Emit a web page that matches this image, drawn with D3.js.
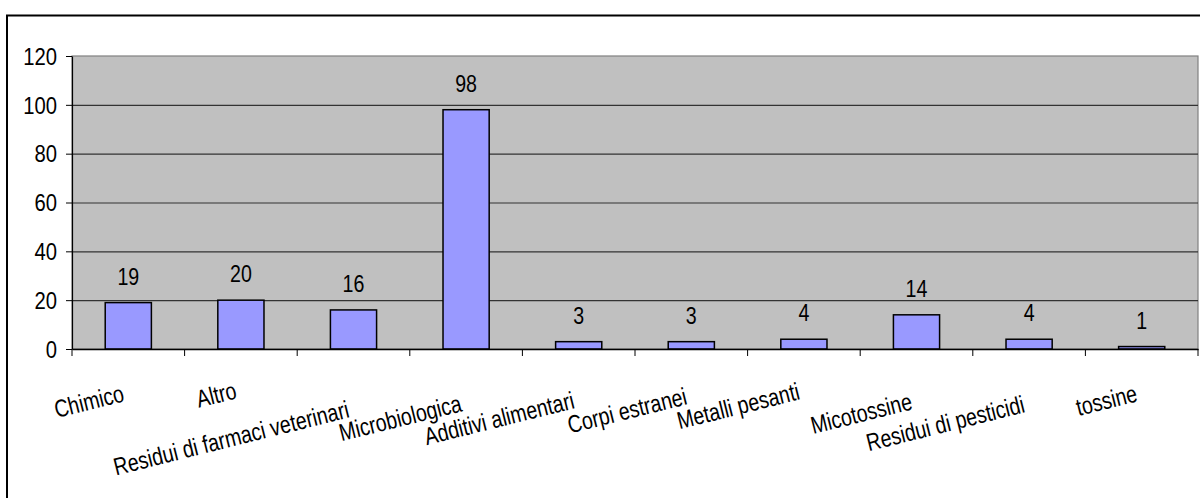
<!DOCTYPE html>
<html>
<head>
<meta charset="utf-8">
<script src="https://cdn.jsdelivr.net/npm/d3@7"></script>
<style>
  html, body { margin: 0; padding: 0; background: #ffffff; }
  svg { display: block; }
  text { font-family: "Liberation Sans", Arial, sans-serif; fill: #000; }
</style>
</head>
<body>
<svg id="chart" width="1200" height="498"></svg>
<script>
// Categorie di rischio e numero di notifiche
const categories = [
  "Chimico", "Altro", "Residui di farmaci veterinari", "Microbiologica",
  "Additivi alimentari", "Corpi estranei", "Metalli pesanti",
  "Micotossine", "Residui di pesticidi", "tossine"
];
const values = [19, 20, 16, 98, 3, 3, 4, 14, 4, 1];
const yTicks = [0, 20, 40, 60, 80, 100, 120];

// Layout
const plot = { left: 72, top: 56, right: 1198, bottom: 349 };
const labelAngle = -14;
// vertical stagger of the rotated category labels (px)
const labelDrop = [0, -3, 16, 10, 7, 3, -2, 8, 11, 0];

const svg = d3.select("#chart");

// Chart area frame
svg.append("rect")
  .attr("x", 7).attr("y", 15.5)
  .attr("width", 1300).attr("height", 700)
  .attr("fill", "#fff").attr("stroke", "#000").attr("stroke-width", 2);

const x = d3.scaleBand()
  .domain(categories)
  .range([plot.left, plot.right])
  .paddingInner(0.59)
  .paddingOuter(0.295);

const y = d3.scaleLinear()
  .domain([0, 120])
  .range([plot.bottom, plot.top]);

// Plot background
svg.append("rect")
  .attr("x", plot.left).attr("y", plot.top)
  .attr("width", plot.right - plot.left).attr("height", plot.bottom - plot.top)
  .attr("fill", "#c0c0c0")
  .attr("stroke", "#808080").attr("stroke-width", 1.2);

// Gridlines
svg.append("g")
  .selectAll("line")
  .data(yTicks.filter(t => t > 0 && t < 120))
  .join("line")
  .attr("x1", plot.left).attr("x2", plot.right)
  .attr("y1", d => y(d) + 0.5).attr("y2", d => y(d) + 0.5)
  .attr("stroke", "#333333").attr("stroke-width", 1.1);

// Y axis
const tickSx = 0.88;
const yAxis = svg.append("g")
  .attr("transform", `translate(${plot.left},0)`)
  .call(d3.axisLeft(y).tickValues(yTicks).tickSize(6).tickSizeOuter(0).tickPadding(9));
yAxis.select(".domain").attr("stroke", "#000").attr("stroke-width", 1.2);
yAxis.selectAll(".tick line").attr("stroke", "#000");
yAxis.selectAll(".tick text")
  .attr("font-size", 23)
  .attr("x", -15 / tickSx)
  .attr("dy", "0.36em")
  .attr("transform", `scale(${tickSx},1)`)
  .style("font-family", '"Liberation Sans", Arial, sans-serif')
  .attr("fill", "#000");

// Bars
svg.append("g")
  .selectAll("rect")
  .data(values)
  .join("rect")
  .attr("x", (d, i) => x(categories[i]))
  .attr("y", d => y(d))
  .attr("width", x.bandwidth())
  .attr("height", d => y(0) - y(d))
  .attr("fill", "#9999ff")
  .attr("stroke", "#000")
  .attr("stroke-width", 1.5);

// X axis line and category ticks at band boundaries
const xAxis = svg.append("g")
  .attr("transform", `translate(0,${plot.bottom})`)
  .call(d3.axisBottom(x).tickSize(0).tickFormat(""));
xAxis.select(".domain").attr("stroke", "#000").attr("stroke-width", 1.4);
xAxis.selectAll(".tick").remove();
const step = x.step();
svg.append("g")
  .selectAll("line")
  .data(d3.range(categories.length + 1))
  .join("line")
  .attr("x1", i => plot.left + i * step).attr("x2", i => plot.left + i * step)
  .attr("y1", plot.bottom).attr("y2", plot.bottom + 7)
  .attr("stroke", "#000").attr("stroke-width", 1);

// Value labels above bars
const valSx = 0.8;
svg.append("g")
  .selectAll("text")
  .data(values)
  .join("text")
  .attr("text-anchor", "middle")
  .attr("font-size", 24.5)
  .attr("transform", (d, i) =>
    `translate(${x(categories[i]) + x.bandwidth() / 2},${y(d) - 18}) scale(${valSx},1)`)
  .text(d => d);

// Rotated category labels
const catSx = 0.8;
svg.append("g")
  .selectAll("text")
  .data(categories)
  .join("text")
  .attr("text-anchor", "end")
  .attr("font-size", 24.5)
  .attr("transform", (d, i) =>
    `translate(${x(d) + x.bandwidth() / 2 - 3},${401 + labelDrop[i]}) rotate(${labelAngle}) scale(${catSx},1)`)
  .text(d => d);
</script>
</body>
</html>
